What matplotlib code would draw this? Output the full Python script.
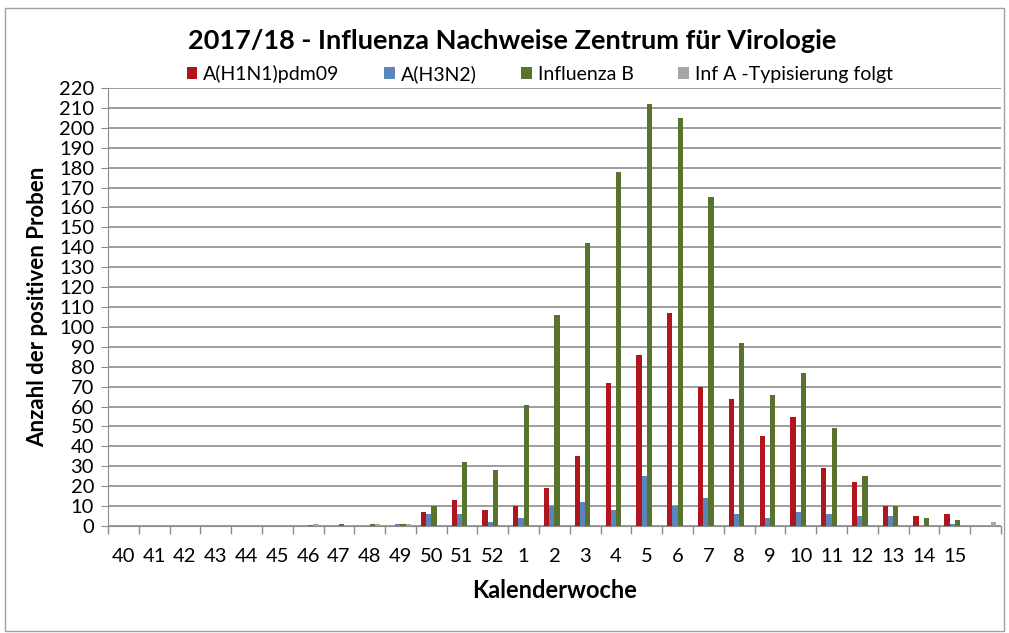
import numpy as np
import matplotlib.pyplot as plt
from matplotlib.patches import Rectangle

plt.rcParams['font.family'] = ['Lato', 'DejaVu Sans']

# calendar weeks (last group has no label)
weeks = ["40", "41", "42", "43", "44", "45", "46", "47", "48", "49", "50", "51", "52",
         "1", "2", "3", "4", "5", "6", "7", "8", "9", "10", "11", "12", "13", "14", "15", ""]

h1n1 = [0, 0, 0, 0, 0, 0, 0, 0, 0, 0, 7, 13, 8,
        10, 19, 35, 72, 86, 107, 70, 64, 45, 55, 29, 22, 10, 5, 6, 0]
h3n2 = [0, 0, 0, 0, 0, 0, 0, 0, 0, 1, 6, 6, 2,
        4, 10, 12, 8, 25, 10, 14, 6, 4, 7, 6, 5, 5, 0, 1, 0]
infb = [0, 0, 0, 0, 0, 0, 0.5, 1, 1, 1, 10, 32, 28,
        61, 106, 142, 178, 212, 205, 165, 92, 66, 77, 49, 25, 10, 4, 3, 0]
inf_a = [0, 0, 0, 0, 0, 0, 1, 0.5, 1, 1, 0, 0, 0,
         0, 0, 0, 0, 0, 0, 0, 0, 0, 0, 0, 0, 0, 0, 0, 2]

series = [("A(H1N1)pdm09", h1n1, "#B0151E"),
          ("A(H3N2)", h3n2, "#5B86BD"),
          ("Influenza B", infb, "#58732C"),
          ("Inf A -Typisierung folgt", inf_a, "#A6A6A6")]

fig = plt.figure(figsize=(10.09, 6.33), dpi=100)
ax = fig.add_axes([0.107, 0.169, 0.885, 0.692])

x = np.arange(len(weeks))
w = 0.17
for i, (name, vals, col) in enumerate(series):
    ax.bar(x + (i - 1.5) * w, vals, w, color=col, label=name, zorder=3)

ax.set_xlim(-0.5, len(weeks) - 0.5)
ax.set_ylim(0, 220)
ax.set_yticks(np.arange(0, 221, 10))
ax.yaxis.grid(True, color="#8C8C8C", linewidth=1.2, zorder=0)

ax.set_xticks(x)
ax.set_xticklabels(weeks, fontsize=14.5)
ax.set_xticks(np.arange(-0.5, len(weeks), 1), minor=True)
ax.tick_params(axis="x", which="major", length=0, pad=16)
ax.tick_params(axis="x", which="minor", length=6, color="#8C8C8C", width=1)
ax.tick_params(axis="y", length=5, color="#8C8C8C", labelsize=14.5, pad=5)

for s in ["top", "right"]:
    ax.spines[s].set_visible(False)
ax.spines["left"].set_color("#8C8C8C")
ax.spines["bottom"].set_color("#8C8C8C")

ax.set_xlabel("Kalenderwoche", fontsize=17, fontweight="bold", labelpad=10)
ax.set_ylabel("Anzahl der positiven Proben", fontsize=16, fontweight="bold", labelpad=8)

fig.text(0.508, 0.935, "2017/18 - Influenza Nachweise Zentrum für Virologie",
         ha="center", va="center", fontsize=19.5, fontweight="bold")
fig.legend(loc="center", bbox_to_anchor=(0.535, 0.883), ncol=4, frameon=False,
           fontsize=14, handlelength=0.55, handleheight=0.55, handletextpad=0.3,
           columnspacing=2.3)

# outer frame of the chart
fig.patches.append(Rectangle((0.005, 0.003), 0.99, 0.984, transform=fig.transFigure,
                             fill=False, edgecolor="#A0A0A0", linewidth=1))

fig.savefig("out.png", dpi=100)
